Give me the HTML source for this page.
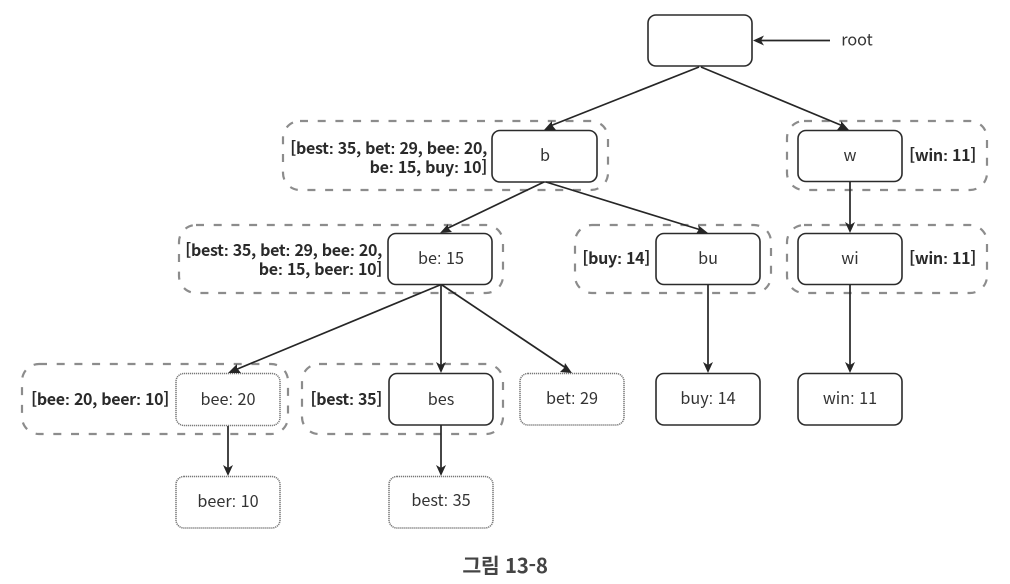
<!DOCTYPE html>
<html lang="ko">
<head>
<meta charset="utf-8">
<title>그림 13-8</title>
<style>
html,body{margin:0;padding:0;background:#fff;width:1010px;height:584px;overflow:hidden}
svg{display:block;font-family:"Noto Sans CJK KR","Liberation Sans",sans-serif;filter:blur(.35px)}
tspan{font-family:"Liberation Sans",sans-serif}
.n{fill:#fff;stroke:#2b2b2b;stroke-width:1.6}
.d{fill:#fff;stroke:#777;stroke-width:1.5;stroke-dasharray:1.2 .8}
.g{fill:none;stroke:#8c8c8c;stroke-width:2.2;stroke-dasharray:8 9.7}
.l{stroke:#262626;stroke-width:1.7;fill:none}
.a{fill:#262626}
.t{font-size:16.2px;fill:#333;text-anchor:middle}
.b{font-size:16px;font-weight:700;fill:#2a2a2a;text-anchor:end;letter-spacing:-.32px}
</style>
</head>
<body>
<svg width="1010" height="584" viewBox="0 0 1010 584" xmlns="http://www.w3.org/2000/svg">
<rect width="1010" height="584" fill="#fff"/>

<rect class="g" x="283" y="121" width="325" height="69" rx="17"/>
<rect class="g" x="787" y="121" width="200" height="69" rx="17"/>
<rect class="g" x="179" y="225" width="324" height="68" rx="17"/>
<rect class="g" x="575" y="225" width="196" height="68" rx="17"/>
<rect class="g" x="787" y="225" width="200" height="68" rx="17"/>
<rect class="g" x="22" y="364" width="266" height="70" rx="17"/>
<rect class="g" x="302" y="364" width="201" height="70" rx="17"/>

<rect class="n" x="648" y="15" width="104" height="51" rx="8"/>
<rect class="n" x="492" y="130.500" width="105" height="51.500" rx="8"/>
<rect class="n" x="798" y="130.500" width="104" height="51" rx="8"/>
<rect class="n" x="388" y="233.500" width="104" height="51" rx="8"/>
<rect class="n" x="656" y="233.500" width="104" height="51" rx="8"/>
<rect class="n" x="798" y="233.500" width="104" height="51" rx="8"/>
<rect class="d" x="176" y="373.500" width="104" height="52" rx="8"/>
<rect class="n" x="389" y="373.500" width="104" height="51.500" rx="8"/>
<rect class="d" x="520" y="373.500" width="104" height="51.500" rx="8"/>
<rect class="n" x="656" y="373.500" width="104" height="51.500" rx="8"/>
<rect class="n" x="798" y="373.500" width="104" height="51.500" rx="8"/>
<rect class="d" x="176" y="476.500" width="104" height="51.500" rx="8"/>
<rect class="d" x="389" y="476.500" width="104" height="51.500" rx="8"/>

<line class="l" x1="830" y1="40.500" x2="760" y2="40.500"/>
<polygon class="a" points="753,40.500 764,35.500 761,40.500 764,45.500"/>

<line class="l" x1="699" y1="67" x2="550" y2="126"/>
<polygon class="a" points="544,130 552,121 552,125 556,130"/>
<line class="l" x1="701" y1="67" x2="843" y2="126"/>
<polygon class="a" points="849,130 837,130 841,125 841,121"/>

<line class="l" x1="544" y1="182" x2="446" y2="229"/>
<polygon class="a" points="440,233 448,224 448,228 452,232"/>
<line class="l" x1="546" y1="182" x2="701" y2="230"/>
<polygon class="a" points="708,233 696,234 699,229 698,225"/>

<line class="l" x1="850" y1="182" x2="850" y2="226"/>
<polygon class="a" points="850,233 845,222 850,225 855,222"/>
<line class="l" x1="850" y1="285" x2="850" y2="366"/>
<polygon class="a" points="850,373 845,362 850,365 855,362"/>
<line class="l" x1="708" y1="285" x2="708" y2="366"/>
<polygon class="a" points="708,373 703,362 708,365 713,362"/>

<line class="l" x1="440" y1="285" x2="235" y2="370"/>
<polygon class="a" points="228,373 237,364 237,368 241,373"/>
<line class="l" x1="441" y1="285" x2="441" y2="366"/>
<polygon class="a" points="441,373 436,362 441,365 446,362"/>
<line class="l" x1="442" y1="285" x2="566" y2="368"/>
<polygon class="a" points="572,373 560,372 564,368 565,363"/>

<line class="l" x1="228" y1="426" x2="228" y2="469"/>
<polygon class="a" points="228,476 223,465 228,468 233,465"/>
<line class="l" x1="441" y1="425" x2="441" y2="469"/>
<polygon class="a" points="441,476 436,465 441,468 446,465"/>

<text class="t" x="857" y="45.500">root</text>
<text class="t" x="545" y="161">b</text>
<text class="t" x="850" y="161">w</text>
<text class="t" x="441" y="264">be<tspan>:</tspan> 15</text>
<text class="t" x="708" y="264">bu</text>
<text class="t" x="850" y="264">wi</text>
<text class="t" x="228" y="405">bee<tspan>:</tspan> 20</text>
<text class="t" x="441" y="405">bes</text>
<text class="t" x="572" y="404">bet<tspan>:</tspan> 29</text>
<text class="t" x="708" y="404">buy<tspan>:</tspan> 14</text>
<text class="t" x="850" y="404">win<tspan>:</tspan> 11</text>
<text class="t" x="228" y="507">beer<tspan>:</tspan> 10</text>
<text class="t" x="441" y="506">best<tspan>:</tspan> 35</text>

<text class="b" x="487" y="154">[best<tspan>:</tspan> 35, bet<tspan>:</tspan> 29, bee<tspan>:</tspan> 20,</text>
<text class="b" x="487" y="173">be<tspan>:</tspan> 15, buy<tspan>:</tspan> 10]</text>
<text class="b" x="382" y="256">[best<tspan>:</tspan> 35, bet<tspan>:</tspan> 29, bee<tspan>:</tspan> 20,</text>
<text class="b" x="382" y="275">be<tspan>:</tspan> 15, beer<tspan>:</tspan> 10]</text>
<text class="b" x="650" y="264">[buy<tspan>:</tspan> 14]</text>
<text class="b" x="976" y="161">[win<tspan>:</tspan> 11]</text>
<text class="b" x="976" y="264">[win<tspan>:</tspan> 11]</text>
<text class="b" x="169" y="405">[bee<tspan>:</tspan> 20, beer<tspan>:</tspan> 10]</text>
<text class="b" x="382" y="405">[best<tspan>:</tspan> 35]</text>

<text x="505" y="573" style="font-size:20.500px;font-weight:700;fill:#444;text-anchor:middle;letter-spacing:-.3px">그림 13-8</text>
</svg>
</body>
</html>
